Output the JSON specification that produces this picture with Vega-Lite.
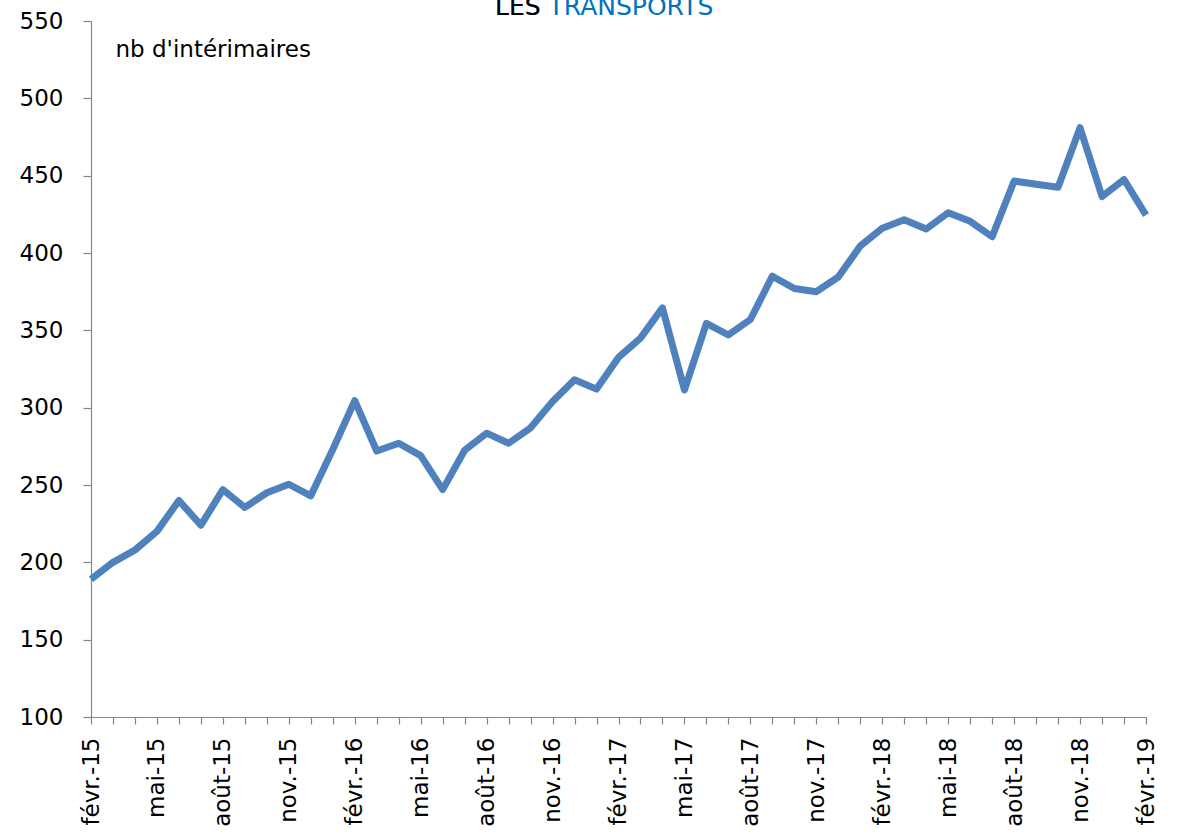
{
  "$schema": "https://vega.github.io/schema/vega-lite/v6.json",
  "autosize": {"type": "none"},
  "padding": {"left": 91, "top": 21, "right": 40, "bottom": 117},
  "width": 1055,
  "height": 696,
  "background": "white",
  "title": {
    "text": "LES TRANSPORTS",
    "subtitle": "LES",
    "anchor": "start",
    "frame": "group",
    "dx": 404,
    "dy": 10,
    "offset": 0,
    "font": "DejaVu Sans",
    "fontSize": 25,
    "fontWeight": "normal",
    "color": "#0070C0",
    "subtitleFont": "DejaVu Sans",
    "subtitleFontSize": 25,
    "subtitleColor": "#000000",
    "subtitlePadding": -25
  },
  "config": {
    "view": {"stroke": null},
    "axis": {
      "labelFont": "DejaVu Sans",
      "labelFontSize": 23,
      "labelColor": "#000000",
      "domainColor": "#868686",
      "tickColor": "#868686",
      "domainWidth": 1.2,
      "tickWidth": 1.2,
      "grid": false
    }
  },
  "data": {
    "values": [
      {"mois": "févr.-15", "v": 189},
      {"mois": "mars-15", "v": 200},
      {"mois": "avr.-15", "v": 208},
      {"mois": "mai-15", "v": 220},
      {"mois": "juin-15", "v": 240},
      {"mois": "juil.-15", "v": 224},
      {"mois": "août-15", "v": 247},
      {"mois": "sept.-15", "v": 235.5},
      {"mois": "oct.-15", "v": 245},
      {"mois": "nov.-15", "v": 250.5},
      {"mois": "déc.-15", "v": 243},
      {"mois": "janv.-16", "v": 273},
      {"mois": "févr.-16", "v": 304.5},
      {"mois": "mars-16", "v": 272},
      {"mois": "avr.-16", "v": 277},
      {"mois": "mai-16", "v": 269},
      {"mois": "juin-16", "v": 247},
      {"mois": "juil.-16", "v": 272.5},
      {"mois": "août-16", "v": 283.5},
      {"mois": "sept.-16", "v": 277},
      {"mois": "oct.-16", "v": 287},
      {"mois": "nov.-16", "v": 304},
      {"mois": "déc.-16", "v": 318},
      {"mois": "janv.-17", "v": 312},
      {"mois": "févr.-17", "v": 332.5},
      {"mois": "mars-17", "v": 345},
      {"mois": "avr.-17", "v": 364.5},
      {"mois": "mai-17", "v": 311.5},
      {"mois": "juin-17", "v": 354.5},
      {"mois": "juil.-17", "v": 347},
      {"mois": "août-17", "v": 357},
      {"mois": "sept.-17", "v": 385},
      {"mois": "oct.-17", "v": 377},
      {"mois": "nov.-17", "v": 375},
      {"mois": "déc.-17", "v": 384.5},
      {"mois": "janv.-18", "v": 404.5},
      {"mois": "févr.-18", "v": 416},
      {"mois": "mars-18", "v": 421.5},
      {"mois": "avr.-18", "v": 415.5},
      {"mois": "mai-18", "v": 426},
      {"mois": "juin-18", "v": 420.5},
      {"mois": "juil.-18", "v": 410.5},
      {"mois": "août-18", "v": 446.5},
      {"mois": "sept.-18", "v": 444.5},
      {"mois": "oct.-18", "v": 442.5},
      {"mois": "nov.-18", "v": 481},
      {"mois": "déc.-18", "v": 436.5},
      {"mois": "janv.-19", "v": 447.5},
      {"mois": "févr.-19", "v": 424.5}
    ]
  },
  "mark": {
    "type": "line",
    "color": "#4F81BD",
    "strokeWidth": 7,
    "strokeJoin": "round",
    "strokeCap": "butt"
  },
  "encoding": {
    "x": {
      "field": "mois",
      "type": "ordinal",
      "sort": null,
      "scale": {"type": "point", "padding": 0},
      "axis": {
        "title": null,
        "labelAngle": -90,
        "labelOverlap": false,
        "labelFlush": false,
        "tickSize": 7,
        "labelPadding": 13,
        "labelExpr": "indexof(['févr.', 'mai', 'août', 'nov.'], split(datum.label, '-')[0]) >= 0 ? datum.label : ''"
      }
    },
    "y": {
      "field": "v",
      "type": "quantitative",
      "scale": {"domain": [100, 550], "nice": false, "zero": false},
      "axis": {
        "values": [100, 150, 200, 250, 300, 350, 400, 450, 500, 550],
        "tickSize": 8,
        "labelPadding": 20,
        "title": "nb d'intérimaires",
        "titleAngle": 0,
        "titleAlign": "left",
        "titleBaseline": "alphabetic",
        "titleX": 24,
        "titleY": 35,
        "titleFont": "DejaVu Sans",
        "titleFontSize": 23,
        "titleFontWeight": "normal",
        "titleColor": "#000000"
      }
    }
  }
}
